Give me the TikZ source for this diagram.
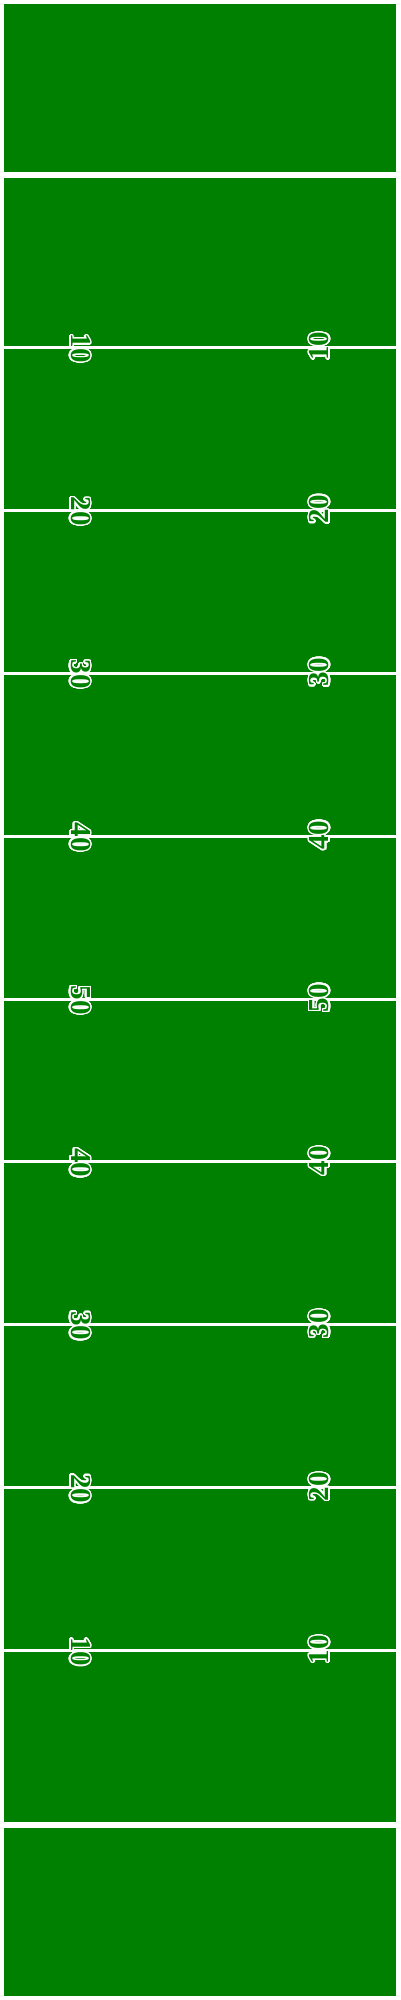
\documentclass[tikz,border=0pt]{standalone}
\usepackage{fontspec}
\usepackage{contour}
\newfontfamily\numfont{Liberation Serif}
\definecolor{turf}{RGB}{0,128,0}
\contourlength{1.4pt}
\contournumber{32}
\tikzset{
  field/.style={fill=turf, draw=none},
  goalline/.style={draw=white, line width=5.5pt},
  yardline/.style={draw=white, line width=3pt},
  yardnum/.style={inner sep=0pt, text=turf, font=\numfont\bfseries\fontsize{29}{29}\selectfont},
}
\newcommand{\yn}[1]{\contour{white}{#1}}
\begin{document}
\begin{tikzpicture}[x=1pt,y=-1pt]
\useasboundingbox (0,0) rectangle (400,2000);
\fill[white] (0,0) rectangle (400,2000);
\path[field] (4,4) rectangle (396,1996);
\draw[goalline] (4,175) -- (396,175);
\draw[goalline] (4,1825) -- (396,1825);
\foreach \k/\n [count=\i] in {-4/10,-3/20,-2/30,-1/40,0/50,1/40,2/30,3/20,4/10} {
  \pgfmathsetmacro{\yy}{999+162.9*\k}
  \draw[yardline] (4,\yy) -- (396,\yy);
  \node[yardnum, rotate=-90] (L\i) at (80,\yy+1) {\yn{\n}};
  \node[yardnum, rotate=90] (R\i) at (320,\yy-1) {\yn{\n}};
}
\end{tikzpicture}
\end{document}
